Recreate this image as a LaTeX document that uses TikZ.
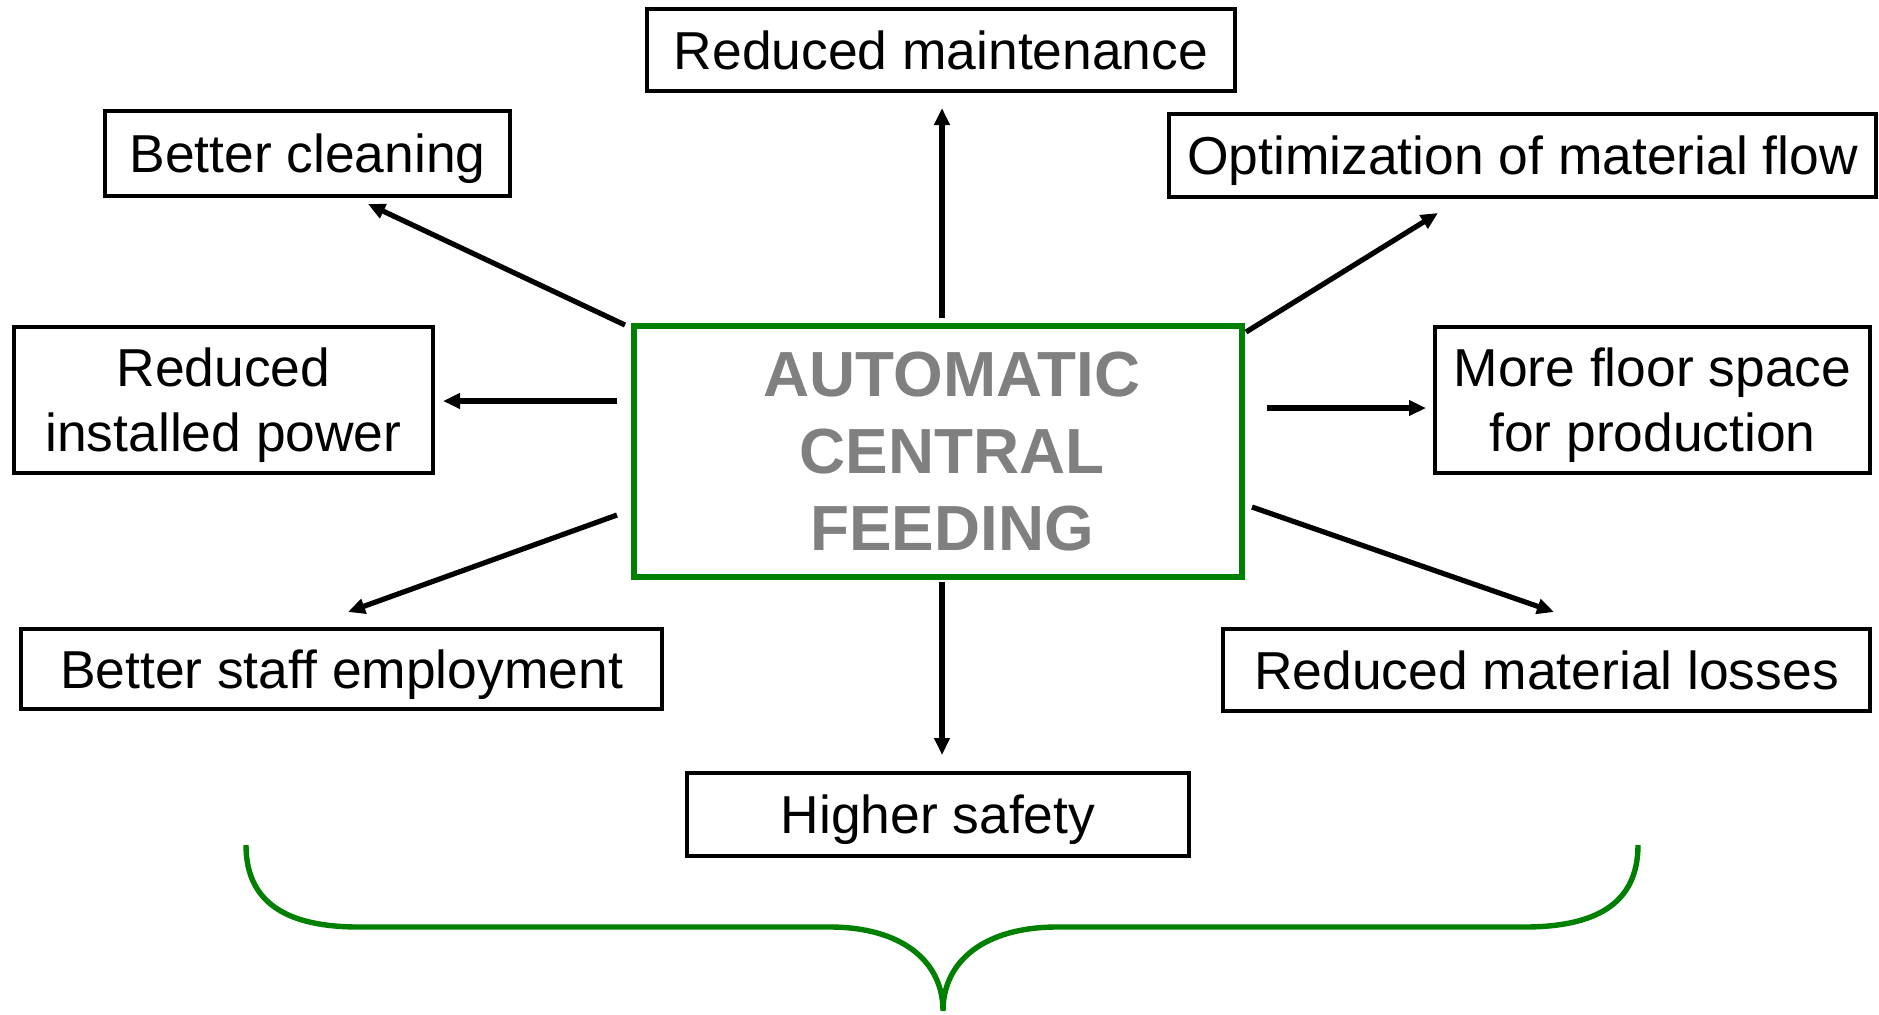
\documentclass[tikz,border=0pt]{standalone}
\usepackage{fontspec}
\setmainfont{Liberation Sans}
\usetikzlibrary{positioning, arrows.meta}
\definecolor{feedgreen}{RGB}{0,128,0}
\definecolor{feedgray}{RGB}{128,128,128}

\begin{document}
\begin{tikzpicture}[x=0.5pt, y=-0.5pt,
    box/.style={draw, line width=2pt, inner sep=0pt, outer sep=0pt, align=center, text depth=0pt, minimum height=41pt, font=\fontsize{26.7pt}{32.4pt}\selectfont},
    hub/.style={draw=feedgreen, line width=3.2pt, inner sep=0pt, outer sep=0pt, align=center, text=feedgray, minimum width=303.8pt, minimum height=125.3pt, font=\fontsize{31.9pt}{38.3pt}\selectfont\bfseries},
    link/.style={-{Triangle[length=8.5pt, width=7.5pt]}, line width=2.6pt}]
        \useasboundingbox (0,0) rectangle (1879,1014);
        \node[hub] (feed) at (938,451.5) {\hspace*{14pt}AUTOMATIC\\\hspace*{14pt}CENTRAL\\\hspace*{14pt}FEEDING};
        \node[box, minimum width=294pt, above=117.6pt of feed, xshift=1.5pt] (maint) {Reduced maintenance};
        \node[box, minimum width=202.5pt, minimum height=42.5pt, above left=65.1pt and 62.1pt of feed] (clean) {Better cleaning};
        \node[box, minimum width=353.5pt, minimum height=41.5pt, above right=64.6pt and -36.4pt of feed] (flow) {Optimization of material flow};
        \node[box, minimum width=209.5pt, minimum height=73pt, left=100.6pt of feed, yshift=25.75pt] (power) {Reduced\\installed power};
        \node[box, minimum width=217.5pt, minimum height=73pt, right=96.6pt of feed, yshift=25.75pt] (space) {More floor space\\for production};
        \node[box, minimum width=320.5pt, minimum height=40pt, below left=26.1pt and -13.9pt of feed] (staff) {Better staff employment};
        \node[box, minimum width=323.5pt, below right=26.1pt and -9.4pt of feed] (losses) {Reduced material losses};
        \node[box, minimum width=251pt, minimum height=41.5pt, below=98.1pt of feed] (safety) {Higher safety};

        \draw[link] ([shift={(-4.6pt,0.6pt)}]feed.north west) -- ([shift={(30.25pt,-4pt)}]clean.south);
        \draw[link] ([shift={(2pt,4.1pt)}]feed.north) -- ([shift={(0.5pt,-8.5pt)}]maint.south);
        \draw[link] ([shift={(2.1pt,-2.9pt)}]feed.north east) -- ([shift={(-42.25pt,-8pt)}]flow.south);
        \draw[link] ([shift={(-8.6pt,25.25pt)}]feed.west) -- ([shift={(5pt,-0.5pt)}]power.east);
        \draw[link] ([shift={(12.6pt,21.75pt)}]feed.east) -- ([shift={(-4.5pt,-4pt)}]space.west);
        \draw[link] ([shift={(-8.6pt,-31.75pt)}]feed.west) -- ([shift={(3.25pt,8.5pt)}]staff.north);
        \draw[link] ([shift={(5.1pt,-27.75pt)}]feed.east) -- ([shift={(3.75pt,8.5pt)}]losses.north);
        \draw[link] ([shift={(2pt,-2.6pt)}]feed.south) -- ([shift={(2pt,9pt)}]safety.north);

        % curly brace under the benefits
        \draw[feedgreen, line width=2.7pt] (246,845) .. controls (246,905) and (290,927) .. (359,927) -- (830,927)
            .. controls (900,927) and (943,960) .. (943,1011)
            .. controls (943,960) and (986,927) .. (1057,927) -- (1524,927)
            .. controls (1594,927) and (1638,905) .. (1638,845);
      \end{tikzpicture}
\end{document}
